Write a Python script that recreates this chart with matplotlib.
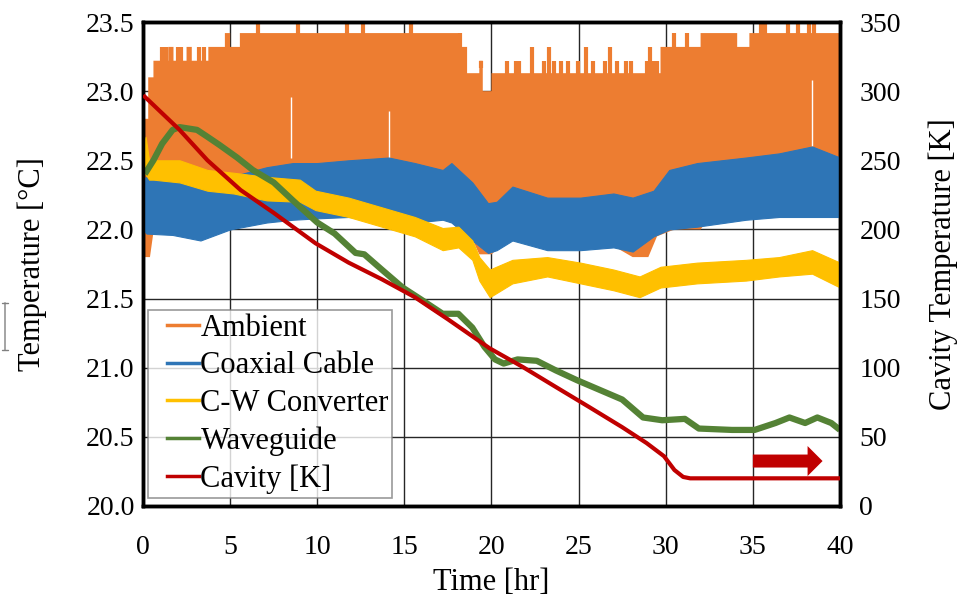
import matplotlib
matplotlib.use("Agg")
import matplotlib.pyplot as plt
from matplotlib.lines import Line2D
from matplotlib.legend_handler import HandlerLine2D
from matplotlib.patches import FancyArrow, Polygon, FancyArrowPatch

plt.rcParams['font.family'] = ['Liberation Serif', 'DejaVu Serif']

# ---------------- data ----------------
# Ambient: oscillating band -> base upper level (step), lower envelope
amb_hi_t = [0, 0.3, 0.6, 1.45, 1.75, 2.5, 2.8, 3.75, 4.7, 5.0, 5.56, 18.1,
            18.6, 19.3, 19.5, 20.0, 29.7, 32.0, 34.1, 34.8, 40]
amb_hi = [22.80, 23.10, 23.22, 23.32, 23.22, 23.32, 23.22, 23.32, 23.42, 23.32,
          23.42, 23.32, 23.13, 23.22, 23.00, 23.13, 23.32, 23.42, 23.32, 23.42,
          23.42]
# narrow spikes of the ambient reading above the base level
amb_spike_t = [1.1, 1.3, 2.0, 2.2, 3.2, 3.5, 6.6, 8.9, 11.7, 12.6, 15.4,
               18.2, 19.4, 20.9, 21.4, 21.6, 22.3, 23.0, 23.3, 23.6, 24.0,
               24.4, 24.95, 25.4, 25.8, 26.5, 26.8, 27.2, 27.7, 28.0, 28.9,
               29.1, 29.3, 29.5, 30.5, 31.2, 35.45, 35.7, 37.0, 37.6, 38.2,
               38.5]
amb_spike_top = [23.32, 23.32, 23.32, 23.32, 23.32, 23.32, 23.50, 23.50, 23.50,
                 23.50, 23.50, 23.42, 23.22, 23.22, 23.22, 23.22, 23.32, 23.22,
                 23.32, 23.22, 23.22, 23.22, 23.22, 23.32, 23.22, 23.22, 23.32,
                 23.22, 23.22, 23.22, 23.22, 23.32, 23.22, 23.22, 23.42, 23.42,
                 23.50, 23.50, 23.50, 23.50, 23.50, 23.50]
amb_lo_t = [0, 0.1, 0.4, 0.6, 5, 10, 15, 17.5, 18.9, 19.3, 20.0, 21, 23, 27,
            28.1, 29.0, 29.5, 30.5, 31.3, 32.0, 32.3, 35, 40]
amb_lo = [22.40, 21.80, 21.80, 21.98, 22.02, 22.10, 22.07, 22.07, 21.93, 21.82,
          21.82, 21.93, 21.86, 21.88, 21.80, 21.80, 21.95, 22.00, 22.00, 22.00,
          22.05, 22.08, 22.10]
# short dropouts (white gaps) in the ambient trace
amb_gap_t = [8.5, 14.1, 38.4]
amb_gap_lo = [22.52, 22.52, 22.60]
amb_gap_hi = [22.96, 22.86, 23.08]

# Coaxial cable band
coax_t = [0, 0.2, 1.7, 3.3, 5.0, 7.1, 8.6, 10.0, 11.8, 14.1, 15.6, 17.2, 17.7,
          18.9, 19.8, 20.3, 21.2, 23.2, 25.1, 27.0, 28.1, 29.3, 30.2, 31.8,
          34.6, 36.5, 38.4, 40]
coax_hi = [22.36, 22.38, 22.38, 22.34, 22.38, 22.45, 22.48, 22.48, 22.50, 22.52,
           22.48, 22.43, 22.48, 22.34, 22.19, 22.20, 22.31, 22.23, 22.23, 22.26,
           22.23, 22.28, 22.43, 22.48, 22.52, 22.55, 22.60, 22.52]
coax_lo = [22.00, 21.97, 21.96, 21.92, 22.00, 22.05, 22.07, 22.08, 22.09, 22.07,
           22.05, 22.07, 22.05, 21.92, 21.83, 21.85, 21.92, 21.85, 21.85, 21.87,
           21.84, 21.95, 22.00, 22.02, 22.07, 22.09, 22.09, 22.09]

# C-W converter band
cw_t = [0, 0.15, 0.35, 0.6, 2.1, 3.7, 5.2, 7.1, 9.0, 9.9, 11.8, 13.7, 15.6,
        17.2, 18.1, 18.9, 19.3, 19.9, 21.2, 23.2, 25.1, 27.0, 28.5, 29.7, 31.8,
        34.6, 36.5, 38.4, 40]
cw_hi = [22.60, 22.67, 22.50, 22.50, 22.50, 22.43, 22.41, 22.38, 22.36, 22.28,
         22.23, 22.16, 22.09, 22.01, 22.02, 21.92, 21.80, 21.71, 21.78, 21.80,
         21.76, 21.71, 21.66, 21.73, 21.76, 21.78, 21.80, 21.85, 21.76]
cw_lo = [22.40, 22.40, 22.36, 22.36, 22.34, 22.28, 22.26, 22.21, 22.20, 22.14,
         22.09, 22.02, 21.95, 21.85, 21.87, 21.78, 21.63, 21.51, 21.61, 21.66,
         21.61, 21.56, 21.51, 21.58, 21.61, 21.63, 21.66, 21.68, 21.58]

# Waveguide
wg_t = [0.1, 0.6, 1.1, 1.7, 2.1, 3.1, 3.7, 4.4, 5.4, 6.3, 7.5, 8.6, 10.0,
        11.0, 12.2, 12.7, 13.7, 14.9, 16.0, 17.2, 18.1, 18.9, 19.6, 20.2, 20.7,
        21.5, 22.6, 23.7, 24.9, 26.2, 27.5, 28.7, 29.8, 31.1, 31.9, 33.8, 35.1,
        36.3, 37.1, 38.0, 38.7, 39.5, 40]
wg = [22.40, 22.50, 22.62, 22.72, 22.74, 22.72, 22.67, 22.61, 22.52, 22.43,
      22.34, 22.21, 22.05, 21.97, 21.83, 21.82, 21.71, 21.58, 21.49, 21.39,
      21.39, 21.29, 21.15, 21.06, 21.03, 21.06, 21.05, 20.98, 20.91, 20.84,
      20.77, 20.64, 20.62, 20.63, 20.56, 20.55, 20.55, 20.60, 20.64, 20.60,
      20.64, 20.60, 20.55]

# Cavity [K] (right axis)
cav_t = [0.1, 2.1, 3.7, 5.6, 7.5, 9.9, 11.8, 13.7, 15.6, 17.5, 19.9, 21.8,
         23.7, 25.6, 27.5, 28.9, 29.9, 30.5, 31.0, 31.4, 32, 40]
cav = [296, 272, 250, 228.5, 212, 190, 176, 164, 151, 135, 114, 100.5, 86,
       71.6, 57, 45.5, 36, 26, 21, 20, 20, 20]

labels = ['Ambient', 'Coaxial Cable', 'C-W Converter', 'Waveguide', 'Cavity [K]']
colors = ['#ED7D31', '#2E75B6', '#FFC000', '#548235', '#C00000']

x_ticks = [0, 5, 10, 15, 20, 25, 30, 35, 40]
left_ticks = [20.0, 20.5, 21.0, 21.5, 22.0, 22.5, 23.0, 23.5]
right_ticks = [0, 50, 100, 150, 200, 250, 300, 350]

# ---------------- figure ----------------
fig = plt.figure(figsize=(9.59, 6.0), dpi=100)
ax1 = fig.add_axes([0.1491, 0.1567, 0.7268, 0.8066])
ax2 = ax1.twinx()

ax1.set_xlim(0, 40)
ax1.set_ylim(20.0, 23.5)
ax2.set_ylim(0, 350)

ax1.set_xticks(x_ticks)
ax1.set_yticks(left_ticks)
ax1.set_yticklabels([f'{v:.1f}' for v in left_ticks])
ax2.set_yticks(right_ticks)
ax1.grid(True, color='#262626', linewidth=1.0)
ax1.set_axisbelow(True)

# ambient band as one polygon: stepped upper edge + lower envelope
verts = []
for i in range(len(amb_hi_t) - 1):
    verts.append((amb_hi_t[i], amb_hi[i]))
    verts.append((amb_hi_t[i + 1], amb_hi[i]))
verts += list(zip(amb_lo_t[::-1], amb_lo[::-1]))
ax1.add_patch(Polygon(verts, closed=True, facecolor=colors[0], edgecolor='none',
                      zorder=2))
base_at = []
for st in amb_spike_t:
    lvl = amb_hi[0]
    for tt, hh in zip(amb_hi_t, amb_hi):
        if tt <= st:
            lvl = hh
    base_at.append(lvl)
ax1.vlines(amb_spike_t, [b - 0.05 for b in base_at], amb_spike_top,
           color=colors[0], lw=3.0, zorder=2)
ax1.vlines(amb_gap_t, amb_gap_lo, amb_gap_hi, color='white', lw=1.0, zorder=2.5)

ax1.fill_between(coax_t, coax_lo, coax_hi, color=colors[1], lw=0.8,
                 edgecolor=colors[1], zorder=3)
ax1.fill_between(cw_t, cw_lo, cw_hi, color=colors[2], lw=0.8,
                 edgecolor=colors[2], zorder=4)
ax1.plot(wg_t, wg, color=colors[3], lw=4.5, zorder=5, solid_capstyle='butt')

ax2.plot(cav_t, cav, color=colors[4], lw=3.0, zorder=6)
arrow = FancyArrow(35.0, 32.5, 4.0, 0, width=9.4, head_width=21.7,
                   head_length=0.86, length_includes_head=True,
                   color=colors[4], lw=0, zorder=7)
ax2.add_patch(arrow)

for ax in (ax1, ax2):
    for s in ax.spines.values():
        s.set_linewidth(2.5)
        s.set_color('black')
ax1.tick_params(axis='both', length=0, labelsize=20)
ax1.tick_params(axis='x', pad=21)
ax1.tick_params(axis='y', pad=6)
ax2.tick_params(axis='y', length=0, labelsize=20, pad=14)

ax1.set_xlabel('Time [hr]', fontsize=22, labelpad=6)
ax1.set_ylabel('Temperature [°C]', fontsize=22, labelpad=28)
ax2.set_ylabel('Cavity Temperature [K]', fontsize=22, labelpad=20)

handles = [Line2D([0], [0], color=c, lw=2.5) for c in colors]
leg = ax2.legend(handles, labels, loc='upper left', bbox_to_anchor=(0.007, 0.405),
                 borderaxespad=0, fontsize=22, frameon=True, fancybox=False,
                 handlelength=1.55, handletextpad=0.05, labelspacing=0.28,
                 borderpad=0.12,
                 handler_map={Line2D: HandlerLine2D(xpad=0.5)})
leg.get_frame().set_edgecolor('#808080')
leg.get_frame().set_linewidth(1.2)
leg.set_zorder(10)

# small gray marker at the left edge
fig.add_artist(FancyArrowPatch(
    (5, 300), (5, 247), transform=None, arrowstyle='|-|,widthA=0.25,widthB=0.25',
    color='#808080', lw=1.0, mutation_scale=10))

fig.savefig('out.png', dpi=100)
